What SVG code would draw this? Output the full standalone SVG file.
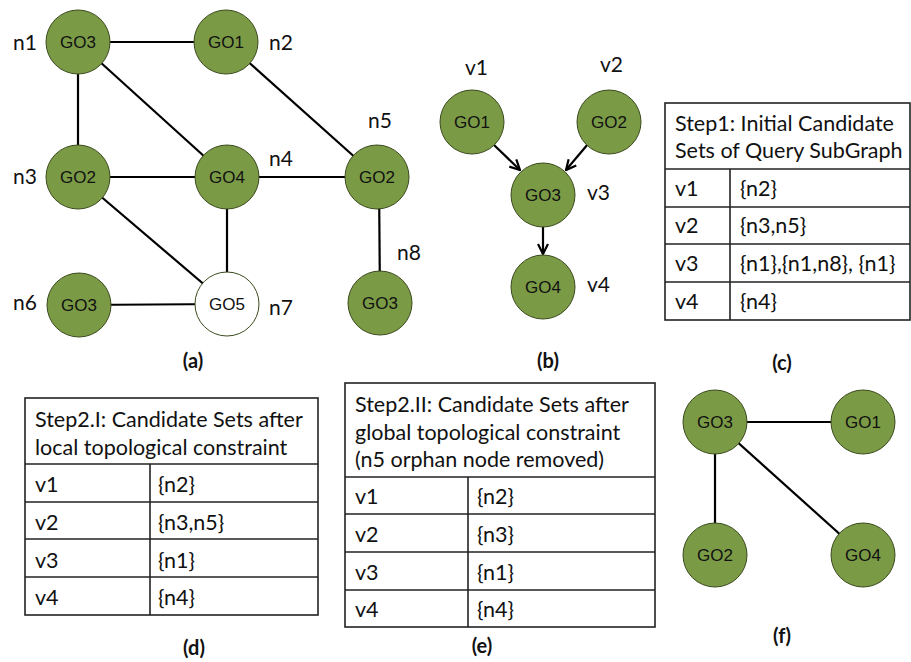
<svg xmlns="http://www.w3.org/2000/svg" width="911" height="662" viewBox="0 0 911 662">
  <style>
    .node circle { fill: #7a9a45; stroke: #3b4a1e; stroke-width: 1; }
    .node.blank circle { fill: #ffffff; stroke: #3b4a1e; }
    .node text { font-family: "Liberation Sans", Arial, sans-serif; font-size: 17px; fill: #111; text-anchor: middle; }
    .edge { stroke: #000; stroke-width: 2.2; fill: none; }
    .arc { stroke: #000; stroke-width: 2.2; fill: none; marker-end: url(#head); }
    .lbl { font-family: Lato, "Open Sans", sans-serif; font-size: 21px; fill: #111; }
    .cap { font-family: Lato, "Open Sans", sans-serif; font-size: 20px; font-weight: bold; fill: #111; text-anchor: middle; }
    .tbl line, .tbl rect { stroke: #222; stroke-width: 1.6; fill: none; }
    .tbl text { font-family: Lato, "Open Sans", sans-serif; font-size: 21.5px; fill: #111; }
  </style>
  <defs>
    <marker id="head" viewBox="0 0 12 12" refX="11" refY="6" markerWidth="12" markerHeight="12" markerUnits="userSpaceOnUse" orient="auto">
      <path d="M1,1 L11,6 L1,11" fill="none" stroke="#000" stroke-width="2.2"/>
    </marker>
  </defs>

  <!-- (a) data graph: edges -->
  <g id="edges-a">
    <line class="edge" x1="78" y1="42" x2="226" y2="42"/>
    <line class="edge" x1="78" y1="42" x2="78" y2="177"/>
    <line class="edge" x1="78" y1="42" x2="227" y2="177"/>
    <line class="edge" x1="226" y1="42" x2="377" y2="177"/>
    <line class="edge" x1="78" y1="177" x2="227" y2="177"/>
    <line class="edge" x1="227" y1="177" x2="377" y2="177"/>
    <line class="edge" x1="78" y1="177" x2="227" y2="304"/>
    <line class="edge" x1="227" y1="177" x2="227" y2="304"/>
    <line class="edge" x1="78" y1="305" x2="227" y2="304"/>
    <line class="edge" x1="379" y1="177" x2="380" y2="303"/>
  </g>

  <!-- (a) data graph: nodes -->
  <g id="n1" class="node"><circle cx="78" cy="42" r="32"/><text x="78" y="48">GO3</text></g>
  <g id="n2" class="node"><circle cx="226" cy="42" r="32"/><text x="226" y="48">GO1</text></g>
  <g id="n3" class="node"><circle cx="78" cy="177" r="32"/><text x="78" y="183">GO2</text></g>
  <g id="n4" class="node"><circle cx="227" cy="177" r="32"/><text x="227" y="183">GO4</text></g>
  <g id="n5" class="node"><circle cx="377" cy="177" r="32"/><text x="377" y="183">GO2</text></g>
  <g id="n6" class="node"><circle cx="79" cy="305" r="32"/><text x="79" y="311">GO3</text></g>
  <g id="n7" class="node blank"><circle cx="227" cy="304" r="32"/><text x="227" y="310">GO5</text></g>
  <g id="n8" class="node"><circle cx="380" cy="303" r="32"/><text x="380" y="309">GO3</text></g>

  <g id="labels-a">
    <text class="lbl" x="13" y="50">n1</text>
    <text class="lbl" x="269" y="50">n2</text>
    <text class="lbl" x="13" y="184">n3</text>
    <text class="lbl" x="269" y="166">n4</text>
    <text class="lbl" x="368" y="128">n5</text>
    <text class="lbl" x="13" y="310">n6</text>
    <text class="lbl" x="269" y="315">n7</text>
    <text class="lbl" x="397" y="260">n8</text>
    <text class="cap" x="193" y="368">(a)</text>
  </g>

  <!-- (b) query graph -->
  <g id="edges-b">
    <line class="arc" x1="494" y1="145" x2="520" y2="170"/>
    <line class="arc" x1="588" y1="144" x2="566" y2="170"/>
    <line class="arc" x1="543" y1="226" x2="543" y2="254"/>
  </g>
  <g id="v1" class="node"><circle cx="472" cy="122" r="32"/><text x="472" y="128">GO1</text></g>
  <g id="v2" class="node"><circle cx="609" cy="122" r="32"/><text x="609" y="128">GO2</text></g>
  <g id="v3" class="node"><circle cx="543" cy="195" r="32"/><text x="543" y="201">GO3</text></g>
  <g id="v4" class="node"><circle cx="543" cy="287" r="32"/><text x="543" y="293">GO4</text></g>
  <g id="labels-b">
    <text class="lbl" x="465" y="75">v1</text>
    <text class="lbl" x="600" y="72">v2</text>
    <text class="lbl" x="587" y="200">v3</text>
    <text class="lbl" x="587" y="292">v4</text>
    <text class="cap" x="548" y="368">(b)</text>
  </g>

  <!-- (c) initial candidate sets -->
  <g id="table-c" class="tbl">
    <rect x="665" y="103" width="245" height="217"/>
    <line x1="665" y1="169" x2="910" y2="169"/>
    <line x1="665" y1="207" x2="910" y2="207"/>
    <line x1="665" y1="244" x2="910" y2="244"/>
    <line x1="665" y1="282" x2="910" y2="282"/>
    <line x1="730" y1="169" x2="730" y2="320"/>
    <text x="675" y="131">Step1: Initial Candidate</text>
    <text x="675" y="158">Sets of Query SubGraph</text>
    <text x="675" y="196">v1</text><text x="740" y="196">{n2}</text>
    <text x="675" y="233">v2</text><text x="740" y="233">{n3,n5}</text>
    <text x="675" y="271">v3</text><text x="740" y="271">{n1},{n1,n8}, {n1}</text>
    <text x="675" y="309">v4</text><text x="740" y="309">{n4}</text>
  </g>
  <text class="cap" x="782" y="370">(c)</text>

  <!-- (d) after local topological constraint -->
  <g id="table-d" class="tbl">
    <rect x="25" y="398" width="293" height="217"/>
    <line x1="25" y1="464" x2="318" y2="464"/>
    <line x1="25" y1="502" x2="318" y2="502"/>
    <line x1="25" y1="539" x2="318" y2="539"/>
    <line x1="25" y1="577" x2="318" y2="577"/>
    <line x1="150" y1="464" x2="150" y2="615"/>
    <text x="35" y="427">Step2.I: Candidate Sets after</text>
    <text x="35" y="455">local topological constraint</text>
    <text x="35" y="492">v1</text><text x="158" y="492">{n2}</text>
    <text x="35" y="530">v2</text><text x="158" y="530">{n3,n5}</text>
    <text x="35" y="568">v3</text><text x="158" y="568">{n1}</text>
    <text x="35" y="605">v4</text><text x="158" y="605">{n4}</text>
  </g>
  <text class="cap" x="194" y="655">(d)</text>

  <!-- (e) after global topological constraint -->
  <g id="table-e" class="tbl">
    <rect x="345" y="383" width="310" height="244"/>
    <line x1="345" y1="477" x2="655" y2="477"/>
    <line x1="345" y1="514" x2="655" y2="514"/>
    <line x1="345" y1="552" x2="655" y2="552"/>
    <line x1="345" y1="590" x2="655" y2="590"/>
    <line x1="468" y1="477" x2="468" y2="627"/>
    <text x="355" y="412">Step2.II: Candidate Sets after</text>
    <text x="355" y="440">global topological constraint</text>
    <text x="355" y="467">(n5 orphan node removed)</text>
    <text x="355" y="504">v1</text><text x="477" y="504">{n2}</text>
    <text x="355" y="542">v2</text><text x="477" y="542">{n3}</text>
    <text x="355" y="580">v3</text><text x="477" y="580">{n1}</text>
    <text x="355" y="617">v4</text><text x="477" y="617">{n4}</text>
  </g>
  <text class="cap" x="482" y="653">(e)</text>

  <!-- (f) matched subgraph -->
  <g id="edges-f">
    <line class="edge" x1="715" y1="422" x2="863" y2="422"/>
    <line class="edge" x1="715" y1="422" x2="715" y2="555"/>
    <line class="edge" x1="715" y1="422" x2="863" y2="555"/>
  </g>
  <g id="f-go3" class="node"><circle cx="715" cy="422" r="32"/><text x="715" y="428">GO3</text></g>
  <g id="f-go1" class="node"><circle cx="863" cy="422" r="32"/><text x="863" y="428">GO1</text></g>
  <g id="f-go2" class="node"><circle cx="715" cy="555" r="32"/><text x="715" y="561">GO2</text></g>
  <g id="f-go4" class="node"><circle cx="863" cy="555" r="32"/><text x="863" y="561">GO4</text></g>
  <text class="cap" x="782" y="643">(f)</text>
</svg>
